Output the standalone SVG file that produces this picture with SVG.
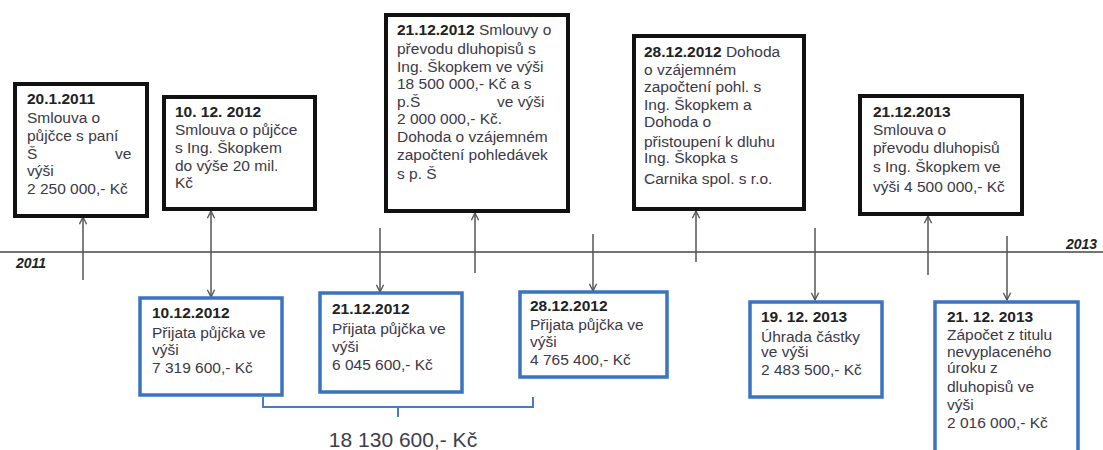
<svg xmlns="http://www.w3.org/2000/svg" width="1103" height="450" viewBox="0 0 1103 450">
<defs>
<marker id="ah" viewBox="0 0 10 10" refX="9" refY="5" markerWidth="9" markerHeight="9" markerUnits="userSpaceOnUse" orient="auto-start-reverse">
<path d="M1,1 L9,5 L1,9" fill="none" stroke="#555" stroke-width="1.5"/>
</marker>
<style>
.bk{fill:#fff;stroke:#111;stroke-width:4}
.bl{fill:#fff;stroke:#3a74c0;stroke-width:3.5}
.t{font-family:"Liberation Sans",Arial,sans-serif;font-size:15.5px;fill:#3b3847}
.b{font-weight:bold;fill:#222}
.yr{font-family:"Liberation Sans",Arial,sans-serif;font-size:14px;font-weight:bold;font-style:italic;fill:#222}
.c{stroke:#555;stroke-width:1.5;fill:none}
.tl{stroke:#444;stroke-width:1.5}
.br{stroke:#4a7cc4;stroke-width:2;fill:none}
.sum{font-family:"Liberation Sans",Arial,sans-serif;font-size:21px;fill:#3e3e4a}
</style>
</defs>
<rect width="1103" height="450" fill="#fff"/>
<g id="timeline">
<line class="tl" x1="0" y1="252" x2="1103" y2="252"/>
<text class="yr" x="16" y="268">2011</text>
<text class="yr" x="1066" y="249">2013</text>
</g>
<g id="connectors">
<line class="c" x1="83" y1="280" x2="83" y2="217" marker-end="url(#ah)"/>
<line class="c" x1="211" y1="211" x2="211" y2="297" marker-start="url(#ah)" marker-end="url(#ah)"/>
<line class="c" x1="380" y1="228" x2="380" y2="292" marker-end="url(#ah)"/>
<line class="c" x1="475" y1="273" x2="475" y2="213" marker-end="url(#ah)"/>
<line class="c" x1="593" y1="234" x2="593" y2="291" marker-end="url(#ah)"/>
<line class="c" x1="696" y1="262" x2="696" y2="211" marker-end="url(#ah)"/>
<line class="c" x1="815" y1="228" x2="815" y2="300" marker-end="url(#ah)"/>
<line class="c" x1="928" y1="275" x2="928" y2="216" marker-end="url(#ah)"/>
<line class="c" x1="1007" y1="236" x2="1007" y2="300" marker-end="url(#ah)"/>
</g>
<g id="n1">
<rect class="bk" x="15" y="84" width="132" height="132"/>
<text class="t"><tspan class="b" x="27" y="104">20.1.2011</tspan><tspan x="27" y="123">Smlouva o</tspan><tspan x="27" y="141">půjčce s paní</tspan><tspan x="27" y="159">Š</tspan><tspan x="115" y="159">ve</tspan><tspan x="27" y="176">výši</tspan><tspan x="27" y="194">2 250 000,- Kč</tspan></text>
</g>
<g id="n2">
<rect class="bk" x="164" y="97" width="151" height="112"/>
<text class="t"><tspan class="b" x="175" y="117">10. 12. 2012</tspan><tspan x="175" y="135">Smlouva o půjčce</tspan><tspan x="175" y="153">s Ing. Škopkem</tspan><tspan x="175" y="171">do výše 20 mil.</tspan><tspan x="175" y="188">Kč</tspan></text>
</g>
<g id="n3">
<rect class="bk" x="386" y="15" width="182" height="196"/>
<text class="t"><tspan class="b" x="397" y="35">21.12.2012</tspan><tspan> Smlouvy o</tspan><tspan x="397" y="54">převodu dluhopisů s</tspan><tspan x="397" y="72">Ing. Škopkem ve výši</tspan><tspan x="397" y="89">18 500 000,- Kč a s</tspan><tspan x="397" y="107">p.Š</tspan><tspan x="497" y="107">ve výši</tspan><tspan x="397" y="124">2 000 000,- Kč.</tspan><tspan x="397" y="142">Dohoda o vzájemném</tspan><tspan x="397" y="160">započtení pohledávek</tspan><tspan x="397" y="179">s p. Š</tspan></text>
</g>
<g id="n4">
<rect class="bk" x="634" y="36" width="170" height="173"/>
<text class="t"><tspan class="b" x="644" y="57">28.12.2012</tspan><tspan> Dohoda</tspan><tspan x="644" y="75">o vzájemném</tspan><tspan x="644" y="92">započtení pohl. s</tspan><tspan x="644" y="110">Ing. Škopkem a</tspan><tspan x="644" y="127">Dohoda o</tspan><tspan x="644" y="147">přistoupení k dluhu</tspan><tspan x="644" y="163">Ing. Škopka s</tspan><tspan x="644" y="184">Carnika spol. s r.o.</tspan></text>
</g>
<g id="n5">
<rect class="bk" x="860" y="96" width="162" height="118"/>
<text class="t"><tspan class="b" x="873" y="117">21.12.2013</tspan><tspan x="873" y="135">Smlouva o</tspan><tspan x="873" y="153">převodu dluhopisů</tspan><tspan x="873" y="172">s Ing. Škopkem ve</tspan><tspan x="873" y="192">výši 4 500 000,- Kč</tspan></text>
</g>
<g id="n6">
<rect class="bl" x="140" y="298" width="142" height="97"/>
<text class="t"><tspan class="b" x="152" y="318">10.12.2012</tspan><tspan x="152" y="338">Přijata půjčka ve</tspan><tspan x="152" y="355">výši</tspan><tspan x="152" y="373">7 319 600,- Kč</tspan></text>
</g>
<g id="n7">
<rect class="bl" x="320" y="293" width="142" height="99"/>
<text class="t"><tspan class="b" x="332" y="314">21.12.2012</tspan><tspan x="332" y="334">Přijata půjčka ve</tspan><tspan x="332" y="352">výši</tspan><tspan x="332" y="370">6 045 600,- Kč</tspan></text>
</g>
<g id="n8">
<rect class="bl" x="520" y="292" width="147" height="85"/>
<text class="t"><tspan class="b" x="530" y="311">28.12.2012</tspan><tspan x="530" y="330">Přijata půjčka ve</tspan><tspan x="530" y="347">výši</tspan><tspan x="530" y="365">4 765 400,- Kč</tspan></text>
</g>
<g id="n9">
<rect class="bl" x="750" y="302" width="132" height="95"/>
<text class="t"><tspan class="b" x="761" y="322">19. 12. 2013</tspan><tspan x="761" y="342">Úhrada částky</tspan><tspan x="761" y="357">ve výši</tspan><tspan x="761" y="375">2 483 500,- Kč</tspan></text>
</g>
<g id="n10">
<rect class="bl" x="935" y="302" width="143" height="160"/>
<text class="t"><tspan class="b" x="947" y="322">21. 12. 2013</tspan><tspan x="947" y="340">Zápočet z titulu</tspan><tspan x="947" y="357">nevyplaceného</tspan><tspan x="947" y="373">úroku z</tspan><tspan x="947" y="392">dluhopisů ve</tspan><tspan x="947" y="410">výši</tspan><tspan x="947" y="428">2 016 000,- Kč</tspan></text>
</g>
<g id="sum">
<path class="br" d="M263,397 V407 H533 V397 M398,407 V417"/>
<text class="sum" x="403" y="447" text-anchor="middle">18 130 600,- Kč</text>
</g>
</svg>
